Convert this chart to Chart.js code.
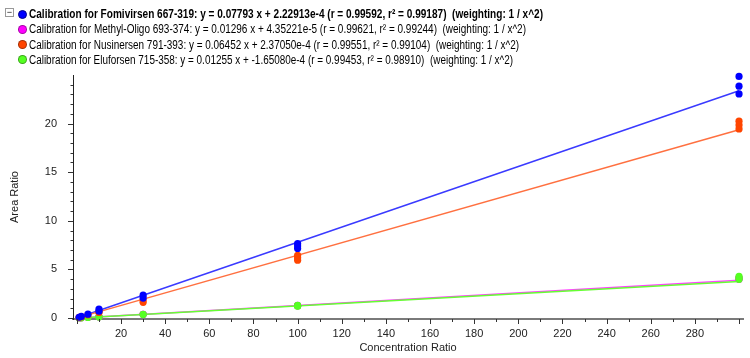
<!DOCTYPE html>
<html>
<head>
<meta charset="utf-8">
<script src="https://cdn.jsdelivr.net/npm/chart.js@4"></script>
<style>
  html, body { margin: 0; padding: 0; background: #fff; }
  #wrap { position: relative; width: 750px; height: 358px; overflow: hidden; background: #fff; }
  #c { position: absolute; left: 0; top: 0; }
  .lg { position: absolute; left: 0; top: 0; font-family: "Liberation Sans", Arial, sans-serif; color: #000; }
  .row { position: absolute; left: 29px; white-space: pre; font-size: 12.5px; line-height: 14px; transform-origin: 0 50%; }
  .row.b { font-weight: bold; }
  .dot { position: absolute; width: 9px; height: 9px; border-radius: 50%; box-sizing: border-box; }
  .box { position: absolute; left: 5px; top: 8px; width: 9px; height: 9px; border: 1px solid #999; box-sizing: border-box; font-size: 9px; line-height: 6px; text-align: center; color: #000; font-family: "Liberation Sans", Arial, sans-serif; }
</style>
</head>
<body>
<div id="wrap">
  <canvas id="c" width="750" height="358"></canvas>
  <div class="lg" id="legend"></div>
</div>
<script>
// ---- data ----
const seriesNames = [
  "Calibration for Fomivirsen 667-319: y = 0.07793 x + 2.22913e-4 (r = 0.99592, r\u00b2 = 0.99187)  (weighting: 1 / x^2)",
  "Calibration for Methyl-Oligo 693-374: y = 0.01296 x + 4.35221e-5 (r = 0.99621, r\u00b2 = 0.99244)  (weighting: 1 / x^2)",
  "Calibration for Nusinersen 791-393: y = 0.06452 x + 2.37050e-4 (r = 0.99551, r\u00b2 = 0.99104)  (weighting: 1 / x^2)",
  "Calibration for Eluforsen 715-358: y = 0.01255 x + -1.65080e-4 (r = 0.99453, r\u00b2 = 0.98910)  (weighting: 1 / x^2)"
];
const concentrations = [1, 2, 5, 10, 10, 30, 30, 100, 100, 100, 300, 300, 300];
const fomivirsenRatios = [0.08, 0.17, 0.40, 0.92, 0.70, 2.35, 2.05, 7.65, 7.40, 7.15, 24.85, 23.85, 23.05];
const methylOligoRatios = [0.013, 0.026, 0.065, 0.13, 0.13, 0.39, 0.38, 1.30, 1.28, 1.26, 4.15, 4.05, 3.98];
const nusinersenRatios = [0.07, 0.13, 0.33, 0.62, 0.58, 1.85, 1.62, 6.45, 6.20, 5.95, 20.25, 19.85, 19.45];
const eluforsenRatios = [0.012, 0.025, 0.06, 0.12, 0.12, 0.38, 0.36, 1.30, 1.25, 1.22, 4.30, 4.12, 3.98];
// calibration (fit) line end points
const fitConcentrations = [1, 300];
const fomivirsenFit = [0.078, 23.38];
const methylOligoFit = [0.013, 3.888];
const nusinersenFit = [0.065, 19.36];
const eluforsenFit = [0.0124, 3.765];
const xTickLabels = [20, 40, 60, 80, 100, 120, 140, 160, 180, 200, 220, 240, 260, 280];
const yTickLabels = [0, 5, 10, 15, 20];

const pointColors = ["#0000ff", "#ff00ff", "#ff4500", "#55ff22"];
const lineColors = ["#3a3aff", "#ff44ff", "#ff7040", "#66ff33"];
const ratioSets = [fomivirsenRatios, methylOligoRatios, nusinersenRatios, eluforsenRatios];
const fitSets = [fomivirsenFit, methylOligoFit, nusinersenFit, eluforsenFit];

// ---- legend (HTML text) ----
const legendTops = [14, 29.3, 44.5, 59.7];
const legendWidths = [514, 497, 490, 484];
const lg = document.getElementById('legend');
const box = document.createElement('div'); box.className = 'box'; box.textContent = '\u2212'; lg.appendChild(box);
seriesNames.forEach((n, i) => {
  const d = document.createElement('div'); d.className = 'dot';
  d.style.left = (22 - 4.5) + 'px'; d.style.top = (legendTops[i] - 4.5) + 'px';
  d.style.background = pointColors[i];
  d.style.border = '1px solid ' + (i === 0 ? '#00008b' : 'rgba(0,0,0,0.35)');
  lg.appendChild(d);
  const r = document.createElement('div'); r.className = 'row' + (i === 0 ? ' b' : '');
  r.textContent = n; r.style.top = (legendTops[i] - 7) + 'px';
  lg.appendChild(r);
  const w = r.getBoundingClientRect().width;
  r.style.transform = 'scaleX(' + (legendWidths[i] / w) + ')';
});

// ---- chart ----
const datasets = [];
const pointOrder = [0, 3, 1, 2];
seriesNames.forEach((n, i) => {
  datasets.push({
    label: n,
    data: concentrations.map((x, k) => ({ x: x, y: ratioSets[i][k] })),
    showLine: false,
    pointRadius: 3.6,
    pointHoverRadius: 3.6,
    pointBackgroundColor: pointColors[i],
    pointBorderColor: pointColors[i],
    pointBorderWidth: 0,
    order: pointOrder[i],
    clip: false
  });
});
const lineOrder = [7, 5, 6, 4];
seriesNames.forEach((n, i) => {
  datasets.push({
    label: n + ' fit',
    data: fitConcentrations.map((x, k) => ({ x: x, y: fitSets[i][k] })),
    showLine: true,
    pointRadius: 0,
    borderColor: lineColors[i],
    borderWidth: 1.5,
    fill: false,
    order: lineOrder[i]
  });
});

const tickFont = { family: "'Liberation Sans', Arial, sans-serif", size: 11 };
const tickPlugin = {
  id: 'ticksDraw',
  afterDraw(chart) {
    const ctx = chart.ctx, xs = chart.scales.x, ys = chart.scales.y, a = chart.chartArea;
    ctx.save();
    ctx.strokeStyle = '#333'; ctx.lineWidth = 1;
    for (let v = 0; v <= 300; v += 10) {
      const px = Math.round(xs.getPixelForValue(v)) + 0.5;
      const len = (v % 20 === 0) ? 4 : 2;
      ctx.beginPath(); ctx.moveTo(px, a.bottom); ctx.lineTo(px, a.bottom + 1 + len); ctx.stroke();
    }
    for (let v = 0; v <= 24; v += 1) {
      const py = Math.round(ys.getPixelForValue(v)) + 0.5;
      const len = (v % 5 === 0) ? 5 : 2.5;
      ctx.beginPath(); ctx.moveTo(a.left, py); ctx.lineTo(a.left - len, py); ctx.stroke();
    }
    ctx.restore();
  }
};

new Chart(document.getElementById('c'), {
  type: 'scatter',
  data: { datasets },
  plugins: [tickPlugin],
  options: {
    responsive: false,
    animation: false,
    events: [],
    layout: { padding: { top: 75, right: 7, left: 0, bottom: 0 } },
    plugins: { legend: { display: false }, tooltip: { enabled: false } },
    scales: {
      x: {
        type: 'linear', min: -1.77, max: 301.8,
        afterFit(s) { s.height = 39; },
        afterBuildTicks(s) { s.ticks = xTickLabels.map(v => ({ value: v })); },
        grid: { display: false },
        border: { display: true, color: '#7a7a7a', width: 2 },
        ticks: { font: tickFont, color: '#222', padding: 0, maxRotation: 0, autoSkip: false },
        title: { display: true, text: 'Concentration Ratio', font: tickFont, color: '#222', padding: { top: 0, bottom: 3 } }
      },
      y: {
        type: 'linear', min: -0.1, max: 25,
        afterFit(s) { s.width = 73; },
        afterBuildTicks(s) { s.ticks = yTickLabels.map(v => ({ value: v })); },
        grid: { display: false },
        border: { display: true, color: '#222', width: 1 },
        ticks: { font: tickFont, color: '#222', padding: 8, autoSkip: false },
        title: { display: true, text: 'Area Ratio', font: tickFont, color: '#222', padding: { top: 8, bottom: 0 } }
      }
    }
  }
});
</script>
</body>
</html>
